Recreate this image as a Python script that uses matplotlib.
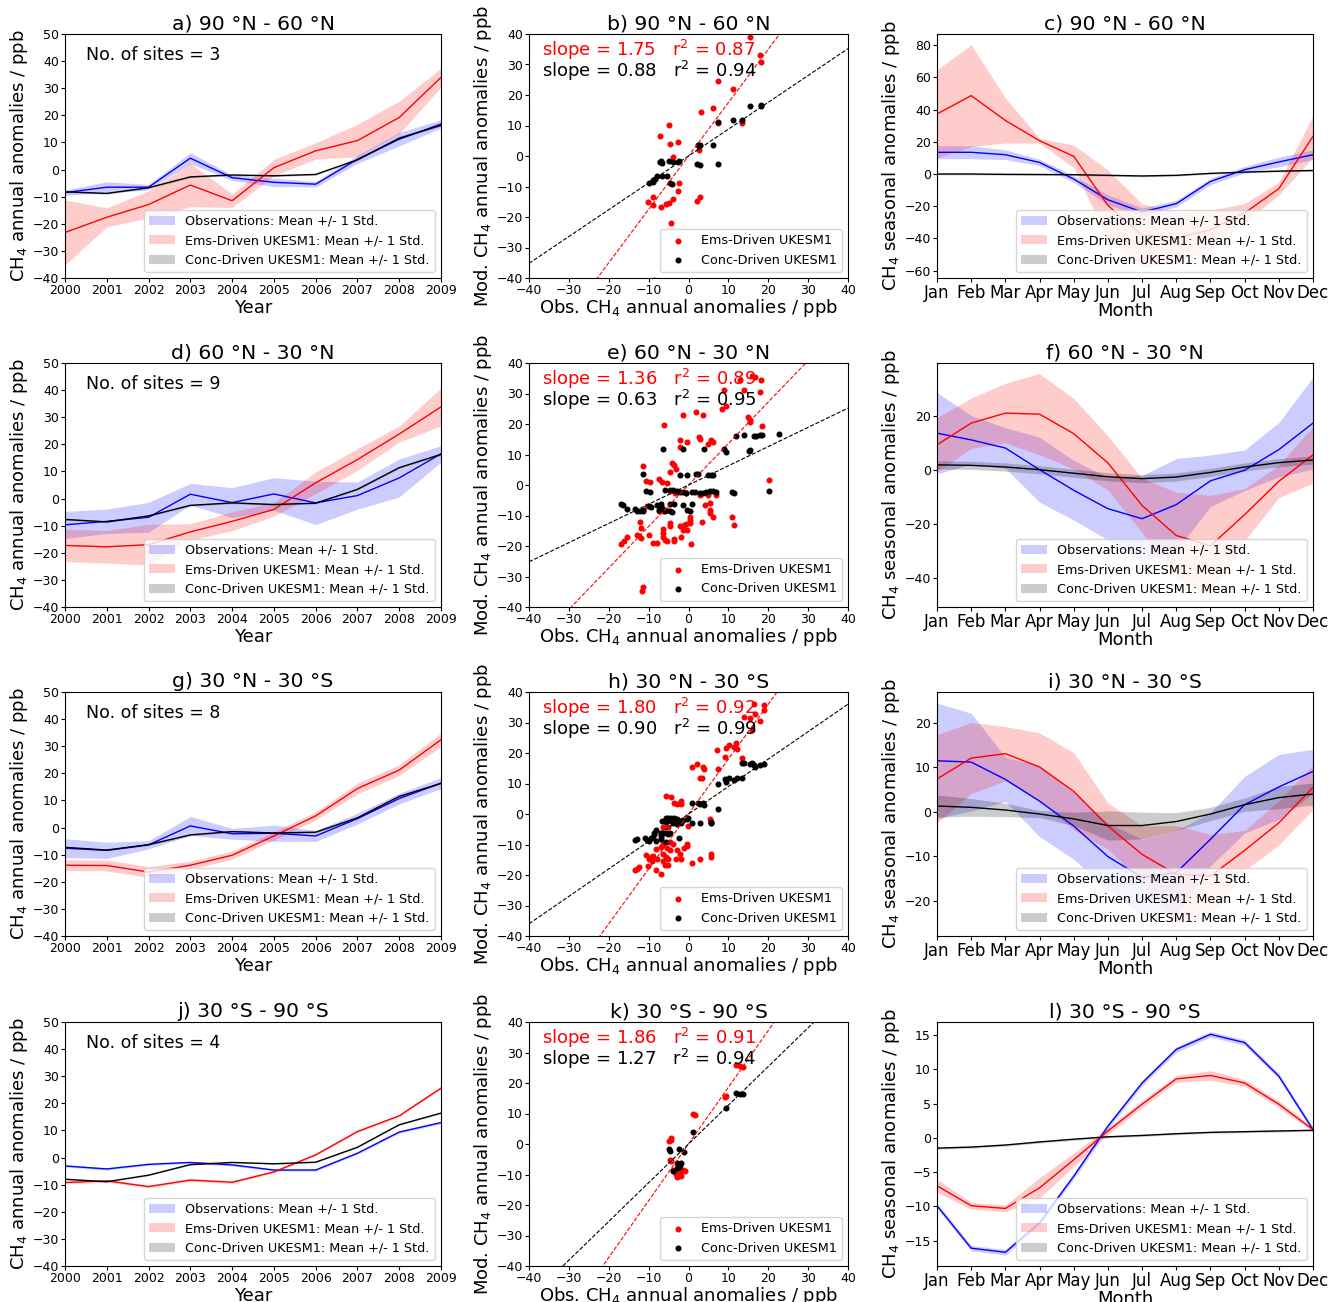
import numpy as np
import matplotlib
matplotlib.use("Agg")
import matplotlib.pyplot as plt

# --- annual anomalies (ppb), 2000-2009 ---
years = np.arange(2000, 2010)

a_obs = [-8.5, -6.5, -6.5, 4.2, -3.0, -4.7, -5.4, 3.8, 11.2, 16.8]
a_obs_sd = [1.0, 2.0, 1.0, 2.0, 1.0, 1.5, 1.0, 1.5, 2.5, 1.5]
a_ems = [-23.2, -17.6, -12.9, -5.7, -11.5, 0.7, 6.9, 10.7, 19.2, 34.0]
a_ems_sd = [12.0, 3.5, 5.0, 8.0, 2.5, 3.0, 3.0, 6.0, 6.0, 3.5]
a_conc = [-8.2, -8.8, -6.7, -2.7, -2.0, -2.3, -1.8, 3.6, 11.6, 16.3]
a_conc_sd = [0.3, 0.3, 0.3, 0.3, 0.3, 0.3, 0.3, 0.3, 0.3, 0.3]

d_obs = [-9.7, -8.4, -6.9, 1.6, -1.5, 1.7, -1.6, 1.1, 7.6, 16.5]
d_obs_sd = [5.0, 4.5, 5.5, 4.0, 5.5, 6.0, 8.0, 5.0, 7.0, 3.0]
d_ems = [-17.3, -17.8, -17.0, -12.3, -8.4, -4.0, 5.8, 14.4, 23.8, 33.8]
d_ems_sd = [6.0, 6.0, 7.5, 3.0, 3.5, 2.5, 4.0, 4.0, 3.0, 7.0]
d_conc = [-7.7, -8.6, -6.4, -2.5, -1.6, -2.2, -1.7, 3.4, 11.4, 16.3]
d_conc_sd = [0.3, 0.3, 0.3, 0.3, 0.3, 0.3, 0.3, 0.3, 0.3, 0.3]

g_obs = [-7.6, -8.4, -6.4, 0.6, -2.3, -2.1, -3.1, 3.3, 10.7, 16.4]
g_obs_sd = [3.5, 3.0, 1.5, 3.5, 2.0, 3.0, 2.0, 2.0, 2.0, 2.0]
g_ems = [-13.9, -14.0, -16.4, -13.9, -10.2, -3.1, 4.3, 14.4, 21.2, 32.4]
g_ems_sd = [2.0, 2.0, 2.0, 1.5, 1.5, 1.5, 1.5, 2.0, 2.0, 2.5]
g_conc = [-7.3, -8.3, -6.3, -2.7, -1.5, -2.0, -1.7, 3.6, 11.5, 16.3]
g_conc_sd = [0.3, 0.3, 0.3, 0.3, 0.3, 0.3, 0.3, 0.3, 0.3, 0.3]

j_obs = [-3.1, -4.2, -2.5, -1.8, -2.7, -4.6, -4.6, 1.6, 9.4, 12.9]
j_obs_sd = [0.4, 0.4, 0.4, 0.4, 0.4, 0.4, 0.4, 0.4, 0.4, 0.5]
j_ems = [-9.2, -8.6, -10.7, -8.3, -9.1, -5.3, 1.0, 9.6, 15.4, 25.6]
j_ems_sd = [0.5, 0.5, 0.5, 0.5, 0.5, 0.4, 0.4, 0.4, 0.4, 0.4]
j_conc = [-8.0, -8.9, -6.5, -2.6, -1.8, -2.3, -1.7, 3.8, 12.1, 16.4]
j_conc_sd = [0.2, 0.2, 0.2, 0.2, 0.2, 0.2, 0.2, 0.2, 0.2, 0.2]

# --- seasonal anomalies (ppb), Jan-Dec ---
months = ['Jan', 'Feb', 'Mar', 'Apr', 'May', 'Jun', 'Jul', 'Aug', 'Sep', 'Oct', 'Nov', 'Dec']

c_obs = [13.5, 13.5, 12.0, 7.2, -3.1, -16.0, -23.6, -18.4, -4.6, 2.7, 7.5, 12.0]
c_obs_sd = [4.0, 4.0, 3.0, 2.0, 2.0, 3.0, 2.5, 2.0, 2.0, 2.0, 3.0, 3.0]
c_ems = [37.3, 48.7, 33.3, 20.7, 11.0, -19.5, -38.0, -39.8, -34.6, -24.2, -9.1, 23.4]
c_ems_sd = [27.5, 31.6, 14.0, 1.5, 7.0, 22.0, 19.5, 16.0, 12.0, 6.0, 4.0, 13.0]
c_conc = [0.0, 0.0, -0.2, -0.3, -0.4, -0.8, -1.2, -0.8, 0.4, 1.2, 1.8, 2.2]
c_conc_sd = [0.5, 0.5, 0.5, 0.5, 0.5, 0.5, 0.5, 0.5, 0.5, 0.5, 0.5, 0.5]

f_obs = [13.5, 11.0, 8.0, 0.0, -7.6, -14.4, -18.1, -12.9, -4.1, -0.2, 7.4, 17.2]
f_obs_sd = [15.0, 9.0, 7.5, 12.0, 11.0, 11.5, 16.0, 17.0, 9.5, 7.5, 10.0, 17.0]
f_ems = [9.2, 17.2, 20.9, 20.5, 13.3, 2.5, -13.2, -24.3, -28.1, -16.6, -4.3, 5.5]
f_ems_sd = [10.0, 9.3, 11.0, 15.0, 13.0, 10.0, 10.0, 16.0, 18.6, 9.6, 6.0, 10.5]
f_conc = [1.8, 1.6, 1.0, 0.0, -1.3, -2.6, -3.3, -2.7, -1.0, 1.0, 2.6, 3.6]
f_conc_sd = [1.5, 1.5, 1.5, 1.5, 1.5, 1.5, 1.5, 1.5, 1.5, 1.5, 1.5, 1.5]

i_obs = [11.5, 11.2, 7.3, 2.4, -3.2, -10.1, -14.8, -13.7, -6.2, 1.6, 5.6, 9.1]
i_obs_sd = [13.0, 11.0, 5.0, 8.0, 7.5, 7.5, 8.6, 9.5, 6.0, 6.4, 7.3, 5.0]
i_ems = [7.4, 12.1, 13.1, 10.1, 4.6, -3.2, -9.6, -14.1, -14.5, -8.7, -2.5, 5.5]
i_ems_sd = [10.0, 8.0, 6.1, 7.7, 8.7, 5.2, 6.4, 11.0, 9.4, 4.5, 5.0, 5.0]
i_conc = [1.3, 1.0, 0.4, -0.5, -1.6, -3.1, -3.1, -2.2, -0.5, 1.6, 3.2, 4.0]
i_conc_sd = [2.5, 2.0, 1.5, 0.8, 1.5, 3.3, 3.0, 2.0, 1.5, 1.5, 2.5, 2.5]

l_obs = [-9.9, -16.1, -16.7, -12.4, -5.6, 1.7, 8.0, 12.9, 15.1, 13.9, 9.0, 1.2]
l_obs_sd = [0.4, 0.4, 0.4, 0.4, 0.4, 0.4, 0.4, 0.4, 0.4, 0.4, 0.4, 0.4]
l_ems = [-7.0, -9.9, -10.3, -7.3, -3.2, 1.0, 4.9, 8.6, 9.1, 8.0, 4.9, 1.2]
l_ems_sd = [1.0, 0.5, 0.5, 1.5, 1.0, 0.5, 0.5, 0.5, 0.7, 0.5, 0.5, 0.3]
l_conc = [-1.5, -1.35, -1.05, -0.6, -0.2, 0.15, 0.35, 0.6, 0.8, 0.9, 1.0, 1.1]
l_conc_sd = [0.15, 0.15, 0.15, 0.15, 0.15, 0.15, 0.15, 0.15, 0.15, 0.15, 0.15, 0.15]

# --- scatter: obs vs model annual anomalies per site/year ---
b_ems_x = [15.4, 18.0, 18.2, 7.3, 11.2, 6.2, 3.1, 7.3, 13.5, -4.8, -7.2, -2.6, -4.6, 2.7, -4.0,
           -7.2, -2.4, -2.6, -8.8, -10.1, -8.9, -6.9, -5.7, -4.8, -3.8, 2.2, 2.8, -4.4, -8.7]
b_ems_y = [38.9, 33.1, 30.9, 24.7, 21.9, 15.6, 14.5, 10.9, 10.7, 10.2, 6.6, 4.5, 3.8, 2.0, -0.2,
           -2.1, -9.0, -11.5, -13.5, -15.1, -16.0, -16.8, -15.7, -15.3, -14.2, -14.6, -13.3, -22.1, -40.8]
b_conc_x = [-10.0, -8.9, -8.5, -8.0, -6.7, -5.5, -7.2, -7.0, -4.8, -4.0, -2.7, -2.3, -4.7, -4.2, 2.4,
            3.0, 6.2, 2.2, 2.8, 7.3, 7.3, 11.2, 13.5, 15.4, 18.1, 18.3, -6.7, 2.7, -8.8]
b_conc_y = [-8.8, -8.0, -7.5, -6.6, -6.4, -6.4, -2.0, -1.6, -1.6, -1.9, -2.0, -1.6, -8.7, -9.1, 3.7,
            3.7, 3.7, -2.6, -2.8, -2.6, 11.2, 11.8, 11.8, 16.5, 16.6, 16.4, -2.4, 3.3, -8.5]

e_ems_x = [16.0, 16.7, 18.3, 12.9, 13.9, 8.9, 17.9, 8.5, 9.4, 1.8, -1.3, 3.7, 15.0, 15.4, 15.5,
           18.5, -6.1, -2.2, -0.3, 2.7, 2.8, 5.6, 6.2, 4.9, -2.2, -11.5, -4.1, -3.6, -3.2, -4.6,
           -10.7, -9.7, -7.4, -5.5, 20.2, 6.8, -0.7, 3.0, 4.9, 4.1, 5.5, 5.3, 5.4, 6.2, 11.0,
           11.4, 3.4, 0.5, 0.5, 0.3, -0.7, -1.1, -2.2, -1.3, -0.3, -1.8, -4.7, -4.7, -6.4, -6.4,
           -6.5, -5.9, -5.3, -3.7, -3.6, -8.0, -8.9, -9.9, -10.5, -5.5, -7.3, -12.2, -12.0, -13.0, -12.4,
           -11.8, -15.3, -16.3, -17.0, -11.5, -11.7, -6.7, -3.3, -6.3, 0.7, -4.7]
e_ems_y = [35.6, 35.3, 34.5, 34.3, 31.2, 31.2, 30.5, 25.0, 26.0, 23.8, 22.8, 22.8, 22.3, 21.2, 20.5,
           19.2, 19.8, 14.6, 14.1, 15.7, 15.2, 14.8, 14.1, 13.5, 12.4, 6.1, 7.2, 6.4, 5.2, 4.3,
           1.2, 0.9, 2.0, 0.7, 1.6, -3.2, -2.6, -3.4, -3.2, -6.7, -5.9, -8.3, -9.2, -10.6, -10.5,
           -13.2, -12.2, -10.5, -11.6, -12.4, -12.7, -13.2, -13.3, -14.6, -14.6, -17.2, -12.4, -13.5, -14.4, -15.7,
           -17.0, -18.1, -18.4, -17.7, -18.2, -19.0, -19.0, -16.5, -6.8, -8.1, -8.6, -12.2, -14.1, -16.3, -16.8,
           -17.4, -17.0, -18.4, -19.5, -33.4, -34.8, 1.0, -2.7, -8.6, -19.3, -2.1]
e_conc_x = [-6.3, -1.3, 3.8, 8.9, 9.4, 12.0, 14.0, 16.4, 17.0, 18.0, 18.5, 22.7, 15.2, 15.5, -11.5,
            -2.2, -0.3, 1.8, 2.4, 4.8, 5.6, 6.2, -10.7, -9.7, -5.9, -4.7, -4.0, -3.0, -2.2, -1.3,
            -0.7, 0.8, 1.6, 3.0, 3.7, 4.3, 5.3, 6.2, 7.0, 11.0, 11.4, 20.2, -17.0, -16.5, -15.3,
            -13.4, -12.8, -12.2, -11.5, -11.4, -7.8, -6.8, -6.7, -4.7, -3.7, -7.3, -5.9, -4.7, -4.1, -1.3,
            -0.3, 0.3, 0.8, -9.9, -9.3]
e_conc_y = [11.9, 11.9, 11.8, 11.9, 10.7, 16.2, 16.4, 16.0, 16.0, 16.4, 16.4, 16.6, 11.0, 11.6, 3.7,
            3.4, 3.4, 3.6, 3.6, 3.3, 3.3, 3.4, -1.9, -2.3, -1.7, -1.7, -1.7, -2.1, -2.3, -2.3,
            -2.6, -2.3, -2.3, -2.6, -2.6, -2.3, -2.0, -2.1, -2.3, -2.3, -2.6, -1.9, -6.1, -6.7, -7.8,
            -7.8, -8.4, -8.6, -8.6, -8.1, -6.4, -6.2, -7.5, -6.1, -6.1, -8.1, -8.4, -8.6, -8.8, -6.7,
            -8.1, -8.6, -6.1, -7.0, -7.2]

h_ems_x = [16.4, 18.9, 18.9, 13.9, 15.4, 16.6, 17.9, 16.0, 7.2, 9.4, 10.2, 11.4, 11.9, 12.2, 9.2,
           13.4, 0.9, 2.2, 3.7, 3.8, 7.3, 3.0, 3.4, -5.7, -4.5, -3.7, -3.0, -1.9, -1.8, 5.3,
           5.7, -0.1, -6.5, -5.1, -7.0, -6.3, -4.7, -4.0, -0.5, -0.3, -1.2, -5.5, -4.7, -3.0, -6.8,
           -8.2, -10.7, -9.5, -8.9, -10.0, -9.1, -8.0, -6.3, -5.7, -5.1, -6.5, -5.1, -5.9, -3.2, -1.8,
           5.6, 5.6, 2.8, 0.9, -2.2, -6.9, -8.2, -10.1, -12.9, -13.4, -12.5]
h_ems_y = [36.2, 35.6, 34.1, 31.9, 31.6, 32.7, 30.5, 27.4, 20.9, 21.7, 22.5, 22.1, 23.2, 21.2, 18.7,
           18.3, 15.5, 16.3, 15.5, 14.6, 14.9, 11.9, 11.7, 5.9, 5.7, 3.5, 3.2, 4.3, 3.4, -1.5,
           -2.8, -3.9, -4.2, -4.2, -6.1, -9.9, -9.2, -9.9, -9.7, -10.5, -11.0, -11.0, -11.8, -11.8, -10.7,
           -11.6, -13.4, -14.0, -13.8, -14.9, -15.4, -14.9, -13.2, -14.0, -14.6, -15.4, -16.8, -16.8, -14.9, -14.6,
           -13.2, -14.0, -14.6, -16.2, -13.2, -19.8, -18.4, -17.0, -17.9, -18.4, -17.3]
h_conc_x = [13.4, 13.9, 15.4, 16.0, 16.5, 16.6, 17.9, 18.9, 7.3, 9.2, 9.4, 10.2, 11.4, 12.2, 13.4,
            0.9, 2.4, 3.0, 3.7, 3.8, 7.3, -5.7, -5.1, -4.3, -3.7, -3.0, -6.7, -5.7, -4.5, -2.2,
            -1.3, -0.5, -0.1, 0.9, 2.8, 5.6, 5.6, -1.9, -3.0, -3.8, -13.4, -12.9, -10.9, -10.5, -10.0,
            -9.3, -8.7, -8.2, -8.2, -7.0, -6.8, -6.3, -5.7, -5.1, -4.7, -6.8, -2.3, -8.9, -5.7]
h_conc_y = [16.6, 16.6, 16.5, 16.6, 16.1, 15.5, 16.1, 16.5, 9.9, 11.4, 10.6, 11.7, 11.1, 11.7, 11.9,
            3.7, 3.5, 3.4, 3.7, 3.0, 1.7, -1.2, -1.2, -1.4, -1.4, -1.5, -2.3, -2.6, -2.3, -2.3,
            -2.0, -1.5, -1.2, -3.1, -2.8, -2.5, -3.1, -3.1, -3.2, -2.8, -8.6, -8.3, -8.0, -8.5, -8.9,
            -8.0, -6.3, -5.4, -8.9, -6.1, -7.4, -6.1, -6.3, -6.7, -6.3, -8.3, -8.0, -7.4, -9.2]

k_ems_x = [11.9, 12.9, 13.7, 9.4, 9.2, 1.2, 1.6, -4.4, -4.3, -4.9, -4.7, -4.3, -1.3, -0.9, -3.2,
           -2.2, -3.0, -1.8, -2.7, -3.8, -2.3]
k_ems_y = [25.8, 25.7, 25.4, 15.8, 15.3, 9.9, 9.6, 2.0, 1.2, 0.9, -5.3, -5.6, -8.4, -9.0, -9.7,
           -9.7, -10.8, -10.4, -9.0, -8.4, -7.1]
k_conc_x = [11.9, 13.0, 13.7, 9.3, 1.2, -4.8, -4.7, -2.3, -1.1, -4.0, -2.2, -1.9, -3.0, -2.4, -2.8]
k_conc_y = [16.7, 16.4, 16.5, 11.8, 3.8, -1.6, -2.2, -1.6, -2.6, -8.7, -6.8, -6.2, -7.9, -7.6, -6.2]

# fitted slopes / r2 shown on each scatter panel
slopes_ems = [1.75, 1.36, 1.80, 1.86]
r2_ems = [0.87, 0.89, 0.92, 0.91]
slopes_conc = [0.88, 0.63, 0.90, 1.27]
r2_conc = [0.94, 0.95, 0.99, 0.94]

regions = ['90 °N - 60 °N', '60 °N - 30 °N', '30 °N - 30 °S', '30 °S - 90 °S']
n_sites = [3, 9, 8, 4]

labels = ['Observations: Mean +/- 1 Std.', 'Ems-Driven UKESM1: Mean +/- 1 Std.',
          'Conc-Driven UKESM1: Mean +/- 1 Std.']
colors = ['blue', 'red', 'black']

annual = [
    (a_obs, a_obs_sd, a_ems, a_ems_sd, a_conc, a_conc_sd),
    (d_obs, d_obs_sd, d_ems, d_ems_sd, d_conc, d_conc_sd),
    (g_obs, g_obs_sd, g_ems, g_ems_sd, g_conc, g_conc_sd),
    (j_obs, j_obs_sd, j_ems, j_ems_sd, j_conc, j_conc_sd),
]
seasonal = [
    (c_obs, c_obs_sd, c_ems, c_ems_sd, c_conc, c_conc_sd),
    (f_obs, f_obs_sd, f_ems, f_ems_sd, f_conc, f_conc_sd),
    (i_obs, i_obs_sd, i_ems, i_ems_sd, i_conc, i_conc_sd),
    (l_obs, l_obs_sd, l_ems, l_ems_sd, l_conc, l_conc_sd),
]
scatters = [
    (b_ems_x, b_ems_y, b_conc_x, b_conc_y),
    (e_ems_x, e_ems_y, e_conc_x, e_conc_y),
    (h_ems_x, h_ems_y, h_conc_x, h_conc_y),
    (k_ems_x, k_ems_y, k_conc_x, k_conc_y),
]
seasonal_ylim = [(-64.6, 87.0), (-50.7, 39.4), (-28.0, 27.0), (-18.7, 16.9)]
letters = 'abcdefghijkl'

plt.rcParams['xtick.major.size'] = 3
plt.rcParams['ytick.major.size'] = 3
plt.rcParams['xtick.major.pad'] = 1.5
plt.rcParams['ytick.major.pad'] = 1.5

W, H = 1340, 1302
fig = plt.figure(figsize=(W / 100, H / 100), dpi=100)


def ax_at(left, top, width, height=244):
    return fig.add_axes([left / W, 1 - (top + height) / H, width / W, height / H])


def bands(ax, x, series):
    for k in range(3):
        m = np.array(series[2 * k])
        s = np.array(series[2 * k + 1])
        ax.fill_between(x, m - s, m + s, color=colors[k], alpha=0.2, lw=0, label=labels[k])
        ax.plot(x, m, color=colors[k], lw=1)
    ax.legend(loc='lower right', fontsize=9.2)


row_tops = [34, 363, 692, 1022]
for r in range(4):
    top = row_tops[r]

    # annual time series
    ax = ax_at(65, top, 376)
    bands(ax, years, annual[r])
    ax.set_xlim(2000, 2009)
    ax.set_ylim(-40, 50)
    ax.set_xticks(years)
    ax.set_yticks(np.arange(-40, 51, 10))
    ax.tick_params(labelsize=9)
    ax.set_xlabel('Year', fontsize=13, labelpad=1)
    ax.set_ylabel('CH$_4$ annual anomalies / ppb', fontsize=13, labelpad=2)
    ax.set_title(f'{letters[3 * r]}) {regions[r]}', fontsize=14.7, pad=3.5)
    ax.text(0.057, 0.915, f'No. of sites = {n_sites[r]}', transform=ax.transAxes,
            fontsize=12.5, va='center')

    # obs vs model scatter
    ax = ax_at(529, top, 319)
    ex, ey, cx, cy = scatters[r]
    ax.scatter(ex, ey, s=11, color='red', label='Ems-Driven UKESM1')
    ax.scatter(cx, cy, s=11, color='black', label='Conc-Driven UKESM1')
    xl = np.array([-40, 40])
    ax.plot(xl, slopes_ems[r] * xl, 'r--', lw=0.8)
    ax.plot(xl, slopes_conc[r] * xl, 'k--', lw=0.8)
    ax.set_xlim(-40, 40)
    ax.set_ylim(-40, 40)
    ax.set_xticks(np.arange(-40, 41, 10))
    ax.set_yticks(np.arange(-40, 41, 10))
    ax.tick_params(labelsize=9)
    ax.text(0.04, 0.935, f'slope = {slopes_ems[r]:.2f}   r$^2$ = {r2_ems[r]:.2f}',
            transform=ax.transAxes, color='red', fontsize=13, va='center')
    ax.text(0.04, 0.848, f'slope = {slopes_conc[r]:.2f}   r$^2$ = {r2_conc[r]:.2f}',
            transform=ax.transAxes, color='black', fontsize=13, va='center')
    ax.legend(loc='lower right', fontsize=9.2)
    ax.set_xlabel('Obs. CH$_4$ annual anomalies / ppb', fontsize=13, labelpad=0)
    ax.set_ylabel('Mod. CH$_4$ annual anomalies / ppb', fontsize=13, labelpad=2)
    ax.set_title(f'{letters[3 * r + 1]}) {regions[r]}', fontsize=14.7, pad=3.5)

    # seasonal cycle
    ax = ax_at(937, top, 376)
    mx = np.arange(12)
    bands(ax, mx, seasonal[r])
    ax.set_xlim(0, 11)
    ax.set_ylim(*seasonal_ylim[r])
    ax.set_xticks(mx)
    ax.set_xticklabels(months, fontsize=12)
    ax.tick_params(axis='y', labelsize=9)
    ax.set_xlabel('Month', fontsize=13, labelpad=0)
    ax.set_ylabel('CH$_4$ seasonal anomalies / ppb', fontsize=13, labelpad=2)
    ax.set_title(f'{letters[3 * r + 2]}) {regions[r]}', fontsize=14.7, pad=3.5)

fig.savefig('out.png', dpi=100)
